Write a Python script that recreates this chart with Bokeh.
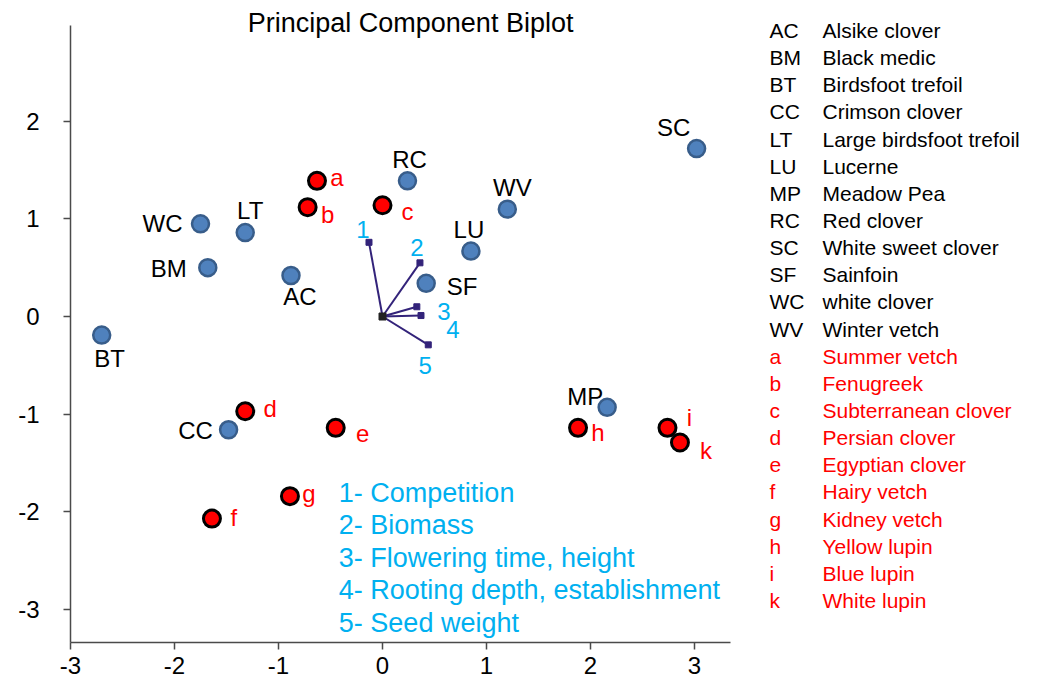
from bokeh.plotting import figure
from bokeh.layouts import row
from bokeh.models import ColumnDataSource, Range1d, FixedTicker, Label
from bokeh.core.properties import value
from bokeh.embed import file_html
from bokeh.resources import INLINE

# ---- data ----
blue_names = ["SC", "RC", "WV", "LU", "SF", "WC", "LT", "BM", "AC", "BT", "CC", "MP"]
blue_x = [3.02, 0.24, 1.20, 0.85, 0.42, -1.75, -1.32, -1.68, -0.88, -2.70, -1.48, 2.16]
blue_y = [1.72, 1.39, 1.10, 0.67, 0.34, 0.95, 0.86, 0.50, 0.42, -0.19, -1.16, -0.93]

red_names = ["a", "b", "c", "d", "e", "f", "g", "h", "i", "k"]
red_x = [-0.63, -0.72, 0.00, -1.32, -0.45, -1.64, -0.89, 1.88, 2.74, 2.86]
red_y = [1.39, 1.12, 1.14, -0.97, -1.14, -2.07, -1.84, -1.14, -1.14, -1.29]

vec_names = ["1", "2", "3", "4", "5"]
vec_x = [-0.13, 0.36, 0.33, 0.37, 0.44]
vec_y = [0.76, 0.55, 0.10, 0.01, -0.29]

trait_labels = ["1- Competition", "2- Biomass", "3- Flowering time, height",
                "4- Rooting depth, establishment", "5- Seed weight"]

legend_abbr = ["AC", "BM", "BT", "CC", "LT", "LU", "MP", "RC", "SC", "SF", "WC", "WV",
               "a", "b", "c", "d", "e", "f", "g", "h", "i", "k"]
legend_names = ["Alsike clover", "Black medic", "Birdsfoot trefoil", "Crimson clover",
                "Large birdsfoot trefoil", "Lucerne", "Meadow Pea", "Red clover",
                "White sweet clover", "Sainfoin", "white clover", "Winter vetch",
                "Summer vetch", "Fenugreek", "Subterranean clover", "Persian clover",
                "Egyptian clover", "Hairy vetch", "Kidney vetch", "Yellow lupin",
                "Blue lupin", "White lupin"]

x_ticks = [-3, -2, -1, 0, 1, 2, 3]
y_ticks = [-3, -2, -1, 0, 1, 2]

# ---- styles (label offsets in screen pixels) ----
blue_dx = [-23, 2, 5, -2, 36, -38, 5, -39, 9, 8, -33, -22]
blue_dy = [-21, -21, -22, -22, 3, 0, -22, 1, 21, 23, 1, -11]
red_dx = [20, 20, 25, 25, 27, 22, 19, 20, 22, 26]
red_dy = [-3, 7, 6, -3, 6, -1, -3, 5, -10, 8]
vec_dx = [-6, -3, 27, 32, -3]
vec_dy = [-13, -15, 5, 14, 21]

FONT = value("Liberation Sans")
BLUE_TXT = "#00B0F0"
RED = "#FF0000"

p = figure(width=738, height=685, x_range=Range1d(-3, 3.346), y_range=Range1d(-3.339, 3.237),
           output_backend="svg", toolbar_location=None,
           min_border_left=70, min_border_right=8, min_border_top=0, min_border_bottom=43)
p.outline_line_color = None
p.grid.visible = False
p.background_fill_color = "white"

p.xaxis.ticker = FixedTicker(ticks=x_ticks)
p.yaxis.ticker = FixedTicker(ticks=y_ticks)
p.yaxis.bounds = (-3.4, 2.98)
for ax, ticks in ((p.xaxis, x_ticks), (p.yaxis, y_ticks)):
    ax.axis_line_color = "#4a4a4a"
    ax.axis_line_width = 1.5
    ax.major_tick_line_color = "#4a4a4a"
    ax.major_tick_line_width = 1.5
    ax.major_tick_in = 0
    ax.major_tick_out = 7
    ax.minor_tick_line_color = None
    ax.major_label_text_font = "Liberation Sans"
    ax.major_label_text_color = "black"
    ax.major_label_text_font_size = "24px"
    ax.major_label_overrides = {t: str(t) for t in ticks}
p.xaxis.major_label_standoff = 7
p.yaxis.major_label_standoff = 24

# vectors
vsrc = ColumnDataSource(dict(x0=[0] * len(vec_x), y0=[0] * len(vec_y), x1=vec_x, y1=vec_y,
                             name=vec_names, dx=vec_dx, dy=vec_dy))
p.segment(x0="x0", y0="y0", x1="x1", y1="y1", source=vsrc, line_color="#33237A", line_width=2)
p.scatter(x="x1", y="y1", source=vsrc, marker="square", size=6, fill_color="#33237A",
          line_color="#33237A")
p.scatter(x=[0], y=[0], marker="square", size=7, fill_color="#222222", line_color="#222222")
p.text(x="x1", y="y1", text="name", source=vsrc, x_offset="dx", y_offset="dy",
       text_align="center", text_baseline="middle", text_font=FONT,
       text_font_size="24px", text_color=BLUE_TXT)

# blue points
bsrc = ColumnDataSource(dict(x=blue_x, y=blue_y, name=blue_names, dx=blue_dx, dy=blue_dy))
p.scatter(x="x", y="y", source=bsrc, size=17, fill_color="#4F81BD", line_color="#385D8A",
          line_width=2.5)
p.text(x="x", y="y", text="name", source=bsrc, x_offset="dx", y_offset="dy",
       text_align="center", text_baseline="middle", text_font=FONT,
       text_font_size="24px", text_color="black")

# red points
rsrc = ColumnDataSource(dict(x=red_x, y=red_y, name=red_names, dx=red_dx, dy=red_dy))
p.scatter(x="x", y="y", source=rsrc, size=17, fill_color=RED, line_color="black",
          line_width=3)
p.text(x="x", y="y", text="name", source=rsrc, x_offset="dx", y_offset="dy",
       text_align="center", text_baseline="middle", text_font=FONT,
       text_font_size="24px", text_color=RED)

# trait key
tsrc = ColumnDataSource(dict(x=[-0.42] * len(trait_labels),
                             y=[-1.806 - 0.333 * i for i in range(len(trait_labels))],
                             t=trait_labels))
p.text(x="x", y="y", text="t", source=tsrc, text_align="left", text_baseline="middle",
       text_font=FONT, text_font_size="27px", text_color=BLUE_TXT)

p.add_layout(Label(x=0.27, y=3.011, text="Principal Component Biplot", text_align="center",
                   text_baseline="middle", text_font="Liberation Sans",
                   text_font_size="27px", text_color="black"))

# legend panel (its frame is aligned with the main frame: 0..642 px)
n = len(legend_abbr)
q = figure(width=314, height=685, x_range=Range1d(0, 314), y_range=Range1d(22.55, -1.105),
           output_backend="svg", toolbar_location=None, min_border=0,
           x_axis_location=None, y_axis_location=None)
q.outline_line_color = None
q.grid.visible = False
colors = ["black" if i < 12 else RED for i in range(n)]
lsrc = ColumnDataSource(dict(xa=[31] * n, xn=[84] * n, y=list(range(n)),
                             a=legend_abbr, nm=legend_names, c=colors))
q.text(x="xa", y="y", text="a", source=lsrc, text_align="left", text_baseline="middle",
       text_font=FONT, text_font_size="21px", text_color="c")
q.text(x="xn", y="y", text="nm", source=lsrc, text_align="left", text_baseline="middle",
       text_font=FONT, text_font_size="21px", text_color="c")

layout = row(p, q)
open("out.html", "w").write(file_html(layout, INLINE))
